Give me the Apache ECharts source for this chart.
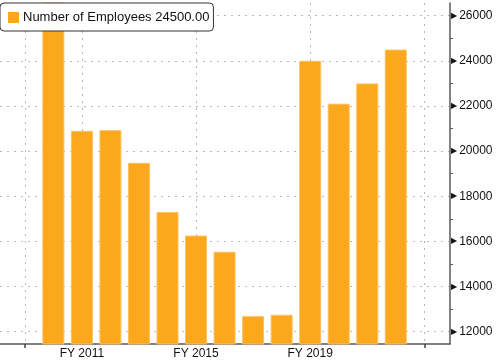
<!DOCTYPE html>
<html>
<head>
<meta charset="utf-8">
<script src="https://cdn.jsdelivr.net/npm/echarts@6/dist/echarts.min.js"></script>
<style>html,body{margin:0;padding:0;background:#fff;}#c{width:500px;height:362px;}</style>
</head>
<body>
<div id="c"></div>
<script>
var seriesName = 'Number of Employees';
var years = [2010, 2011, 2012, 2013, 2014, 2015, 2016, 2017, 2018, 2019, 2020, 2021, 2022];
var employees = [26900, 20900, 20930, 19480, 17300, 16260, 15540, 12690, 12750, 24000, 22100, 23000, 24500];
var xLabelYears = [2011, 2015, 2019];
var xGridYears = [2009, 2011, 2015, 2019, 2023];
var xTickYears = [2009, 2023];
var yMajorTicks = [12000, 14000, 16000, 18000, 20000, 22000, 24000, 26000];
var yMinorTicks = [13000, 15000, 17000, 19000, 21000, 23000, 25000];
var xMin = 2008.13, xMax = 2023.9;
var yMin = 11455, yMax = 26563;

var chart = echarts.init(document.getElementById('c'), null, {renderer: 'canvas'});
var lastVal = employees[employees.length - 1];
var font = 'Liberation Sans';
var gridStyle = {color: '#b8b8b8', width: 1, type: [2, 5]};
var axisCol = '#5a5a5a';

chart.setOption({
  animation: false,
  textStyle: {fontFamily: font},
  grid: {left: 0, right: 50, top: 3, bottom: 18, containLabel: false},
  legend: {
    left: 0, top: 3,
    padding: [8, 4, 7, 8],
    itemWidth: 11, itemHeight: 11, itemGap: 4,
    icon: 'rect',
    itemStyle: {borderWidth: 0},
    backgroundColor: '#fff',
    borderColor: '#333', borderWidth: 1, borderRadius: 4,
    textStyle: {fontFamily: font, fontSize: 13, color: '#111', padding: [0, 0, 0, -1]},
    formatter: function (n) { return n + ' ' + lastVal.toFixed(2); },
    data: [seriesName]
  },
  xAxis: [{
    type: 'value', min: xMin, max: xMax, position: 'bottom',
    axisLine: {show: true, lineStyle: {color: axisCol, width: 1.5}},
    axisTick: {show: true, length: 4, customValues: xTickYears, lineStyle: {color: '#444', width: 1.5}},
    axisLabel: {customValues: xLabelYears, formatter: function (v) { return 'FY ' + v; }, fontSize: 12, color: '#111', margin: 4, fontFamily: font},
    splitLine: {show: false}
  }, {
    type: 'value', min: xMin, max: xMax, position: 'bottom',
    axisLine: {show: false},
    axisTick: {show: false, customValues: xGridYears},
    axisLabel: {show: false},
    splitLine: {show: true, lineStyle: gridStyle}
  }],
  yAxis: [{
    type: 'value', min: yMin, max: yMax, position: 'right',
    axisLine: {show: true, lineStyle: {color: axisCol, width: 1.5}},
    axisTick: {show: false, customValues: yMajorTicks},
    axisLabel: {
      customValues: yMajorTicks, margin: 1, color: '#111', fontSize: 12, fontFamily: font,
      formatter: function (v) { return '{t|\u25B6}{n|' + v + '}'; },
      rich: {t: {fontSize: 8, color: '#111', padding: [0, 2, 0, 0], fontFamily: 'DejaVu Sans'}, n: {fontSize: 12, color: '#111', fontFamily: font}}
    },
    splitLine: {show: true, lineStyle: gridStyle}
  }, {
    type: 'value', min: yMin, max: yMax, position: 'right',
    axisLine: {show: false},
    axisTick: {show: true, length: 3, customValues: yMinorTicks, lineStyle: {color: axisCol, width: 1}},
    axisLabel: {show: false},
    splitLine: {show: false}
  }],
  series: [{
    name: seriesName, type: 'bar', xAxisIndex: 0, yAxisIndex: 0,
    barWidth: 22,
    clip: true,
    itemStyle: {color: '#fca81c', borderColor: '#fdc060', borderWidth: 1},
    data: years.map(function (y, i) { return [y, employees[i]]; })
  }]
});
</script>
</body>
</html>
